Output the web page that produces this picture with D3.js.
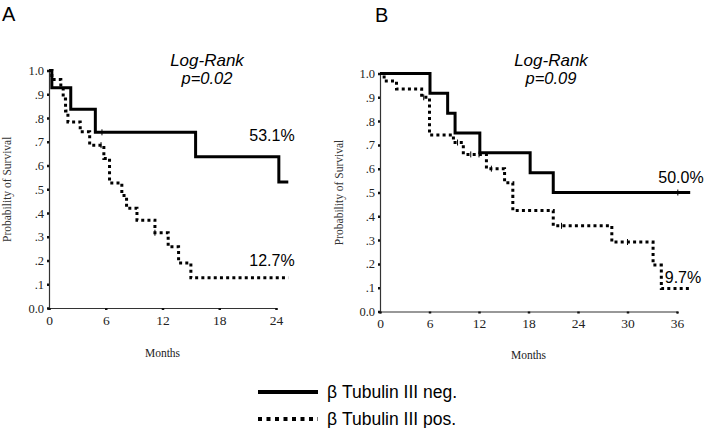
<!DOCTYPE html>
<html><head><meta charset="utf-8">
<script src="https://cdn.jsdelivr.net/npm/d3@7"></script>
<style>
body{margin:0;background:#fff;}
svg{display:block;}
</style></head>
<body><svg id="c" width="705" height="428"></svg>
<script>
// Panel A data (months, survival probability)
const aNegTimes = [0, 0.3, 2.3, 4.9, 15.5, 24.3];
const aNegSurv  = [1.0, 0.928, 0.837, 0.74, 0.637, 0.531];
const aNegEnd = 25.3;
const aNegCensor = [5.6];
const aPosTimes = [0, 0.3, 1.25, 1.5, 1.75, 2.0, 3.3, 4.3, 5.8, 6.4, 7.7, 8.2, 9.3, 11.2, 12.6, 13.7, 15.0];
const aPosSurv  = [1.0, 0.963, 0.925, 0.88, 0.83, 0.784, 0.742, 0.686, 0.63, 0.527, 0.474, 0.42, 0.37, 0.317, 0.258, 0.19, 0.127];
const aPosEnd = 25.3;
const aPosCensor = [5.5, 11.2];
// Panel B data
const bNegTimes = [0, 6.06, 8.2, 9.1, 12.1, 18.2, 21.0];
const bNegSurv  = [1.0, 0.917, 0.833, 0.75, 0.667, 0.583, 0.5];
const bNegEnd = 37.6;
const bNegCensor = [36.1];
const bPosTimes = [0, 0.5, 2.0, 5.05, 6.0, 8.9, 10.1, 12.9, 15.1, 16.1, 21.0, 28.1, 33.1, 34.1];
const bPosSurv  = [1.0, 0.968, 0.935, 0.90, 0.742, 0.71, 0.66, 0.60, 0.541, 0.424, 0.36, 0.292, 0.195, 0.097];
const bPosEnd = 37.6;
const bPosCensor = [5.3, 9.4, 11.0, 12.0, 13.5, 22.0, 30.0];

const aXTicks = [0, 6, 12, 18, 24];
const bXTicks = [0, 6, 12, 18, 24, 30, 36];
const yTicks = [0, 0.1, 0.2, 0.3, 0.4, 0.5, 0.6, 0.7, 0.8, 0.9, 1.0];

const svg = d3.select("#c");
svg.append("rect").attr("width",705).attr("height",428).attr("fill","#fff");

const serif = "'Liberation Serif','Times New Roman',serif";
const sans = "'Liberation Sans',Arial,sans-serif";

function yFmt(v){ if (v===0) return "0.0"; if (v===1) return "1.0"; return "." + Math.round(v*10); }

function panel(opt){
  const g = svg.append("g");
  const x = d3.scaleLinear().domain([0, opt.xMax]).range([opt.x0, opt.x1]);
  const y = d3.scaleLinear().domain([0, 1]).range([opt.y0, opt.y1]);

  const ya = g.append("g").attr("transform",`translate(${opt.x0},0)`)
    .call(d3.axisLeft(y).tickValues(yTicks).tickFormat(yFmt).tickSize(2).tickPadding(3));
  const xa = g.append("g").attr("transform",`translate(0,${opt.y0})`)
    .call(d3.axisBottom(x).tickValues(opt.xTicks).tickFormat(d3.format("d")).tickSize(2).tickPadding(5));
  [ya, xa].forEach(a=>{
    a.select(".domain").attr("stroke","#333").attr("stroke-width",1.2);
    a.selectAll(".tick line").attr("stroke","#111").attr("stroke-width",2.5);
    a.selectAll("text").attr("font-family",serif).attr("fill","#222");
  });
  ya.selectAll("text").attr("font-size",12.5);
  xa.selectAll("text").attr("font-size",13.5);

  const line = d3.line().x(d=>x(d[0])).y(d=>y(d[1])).curve(d3.curveStepAfter);
  opt.series.forEach(s=>{
    const pts = s.t.map((t,i)=>[t, s.s[i]]);
    pts.push([s.end, s.s[s.s.length-1]]);
    g.append("path").attr("d", line(pts)).attr("fill","none").attr("stroke","#000")
      .attr("stroke-width", 3).attr("stroke-dasharray", s.dash ? "3,3.2" : null);
    s.censor.forEach(c=>{
      let v = s.s[0];
      s.t.forEach((t,i)=>{ if (t<=c) v = s.s[i]; });
      g.append("line").attr("x1",x(c)).attr("x2",x(c)).attr("y1",y(v)-3).attr("y2",y(v)+3)
        .attr("stroke","#000").attr("stroke-width",1);
    });
  });

  g.append("text").attr("transform",`translate(${opt.ylabX},${(opt.y0+opt.y1)/2}) rotate(-90)`)
    .attr("text-anchor","middle").attr("font-family",serif).attr("font-size",11.5).attr("fill","#333")
    .text("Probability of Survival");
  g.append("text").attr("x",(opt.x0+opt.x1)/2).attr("y",opt.monthsY).attr("text-anchor","middle")
    .attr("font-family",serif).attr("font-size",11.5).attr("fill","#222").text("Months");
  return {x,y};
}

panel({x0:49, x1:276, y0:308, y1:70.6, xMax:24, xTicks:aXTicks, ylabX:11, monthsY:357,
  series:[
    {t:aNegTimes, s:aNegSurv, end:aNegEnd, censor:aNegCensor, dash:false},
    {t:aPosTimes, s:aPosSurv, end:aPosEnd, censor:aPosCensor, dash:true}
  ]});
panel({x0:380, x1:677, y0:311.5, y1:73.5, xMax:36, xTicks:bXTicks, ylabX:343, monthsY:359,
  series:[
    {t:bNegTimes, s:bNegSurv, end:bNegEnd, censor:bNegCensor, dash:false},
    {t:bPosTimes, s:bPosSurv, end:bPosEnd, censor:bPosCensor, dash:true}
  ]});

function txt(x,y,s,size,anchor,italic){
  svg.append("text").attr("x",x).attr("y",y).attr("font-family",sans).attr("font-size",size)
    .attr("text-anchor",anchor||"start").attr("font-style",italic?"italic":"normal").attr("fill","#000").text(s);
}
txt(2,21,"A",20);
txt(375,22,"B",20);
txt(207,66,"Log-Rank",17,"middle",true);
txt(207,84,"p=0.02",16.5,"middle",true);
txt(551,66,"Log-Rank",17,"middle",true);
txt(551,84,"p=0.09",16.5,"middle",true);
txt(272,141,"53.1%",16,"middle");
txt(272,266,"12.7%",16,"middle");
txt(681,183,"50.0%",16,"middle");
txt(683,283,"9.7%",16,"middle");

// legend
const legend = [{label:"β Tubulin III neg.", dash:false},{label:"β Tubulin III pos.", dash:true}];
const lg = svg.append("g");
legend.forEach((d,i)=>{
  const yy = 392 + i*27;
  lg.append("line").attr("x1",258).attr("x2",318).attr("y1",yy).attr("y2",yy)
    .attr("stroke","#000").attr("stroke-width",4).attr("stroke-dasharray", d.dash ? "4,4.5" : null);
  lg.append("text").attr("x",327).attr("y",yy+6).attr("font-family",sans).attr("font-size",17.5)
    .attr("fill","#000").text(d.label);
});
</script></body></html>
